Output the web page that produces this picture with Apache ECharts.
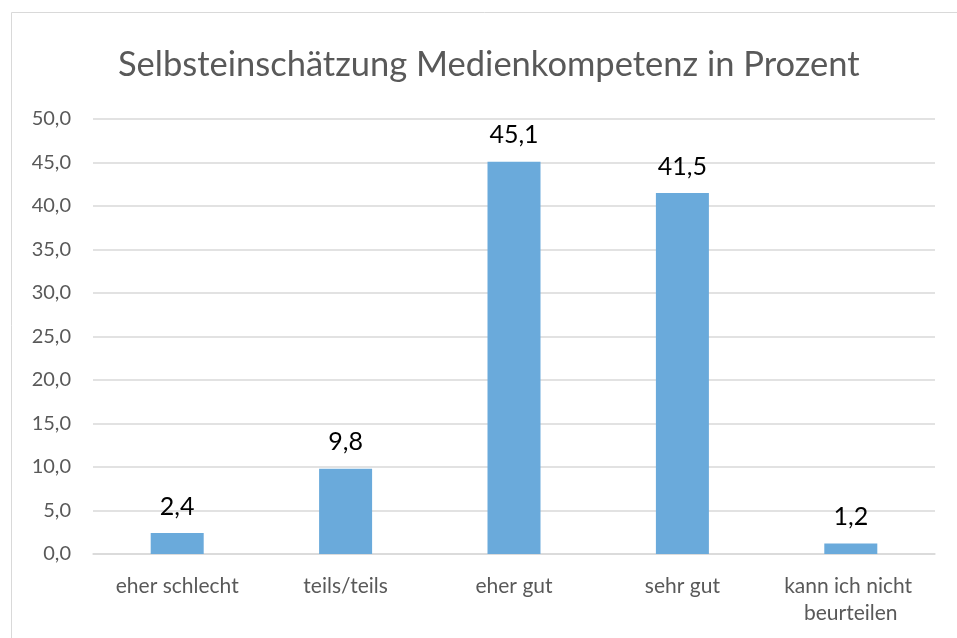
<!DOCTYPE html>
<html>
<head>
<meta charset="utf-8">
<script src="https://cdn.jsdelivr.net/npm/echarts@6/dist/echarts.min.js"></script>
<style>html,body{margin:0;padding:0;background:#fff}#c{width:957px;height:638px}</style>
</head>
<body>
<div id="c"></div>
<script>
const categories = ["eher schlecht", "teils/teils", "eher gut", "sehr gut", "kann ich nicht beurteilen"];
const values = [2.4, 9.8, 45.1, 41.5, 1.2];
const yTicks = {min: 0, max: 50, interval: 5};
const titleText = "Selbsteinschätzung Medienkompetenz in Prozent";

const fmt = v => v.toFixed(1).replace('.', ',');
const chart = echarts.init(document.getElementById('c'));
chart.setOption({
  animation: false,
  textStyle: {fontFamily: 'Lato, "Noto Sans", sans-serif'},
  graphic: [{
    type: 'rect', left: 9, top: 10, shape: {width: 960, height: 640},
    style: {fill: 'none', stroke: '#d9d9d9', lineWidth: 1}, z: -1
  }],
  title: {
    text: titleText, left: 113, top: 42,
    textStyle: {fontSize: 34.5, fontWeight: 'normal', color: '#595959', fontFamily: 'Lato, "Noto Sans", sans-serif'}
  },
  grid: {left: 93, right: 22, top: 119, bottom: 84},
  xAxis: {
    type: 'category', data: categories,
    axisLine: {lineStyle: {color: '#d9d9d9', width: 1.5}},
    axisTick: {show: false},
    axisLabel: {color: '#595959', fontSize: 21, margin: 19, width: 165, overflow: 'break', lineHeight: 27, interval: 0}
  },
  yAxis: {
    type: 'value', min: yTicks.min, max: yTicks.max, interval: yTicks.interval,
    axisLine: {show: false}, axisTick: {show: false},
    axisLabel: {color: '#595959', fontSize: 20, margin: 22, formatter: v => fmt(v)},
    splitLine: {lineStyle: {color: '#d9d9d9', width: 1.5}}
  },
  series: [{
    type: 'bar', data: values, barWidth: 53,
    itemStyle: {color: '#6aaadb'},
    label: {show: true, position: 'top', distance: 14, color: '#000', fontSize: 25, formatter: p => fmt(p.value)}
  }]
});
</script>
</body>
</html>
